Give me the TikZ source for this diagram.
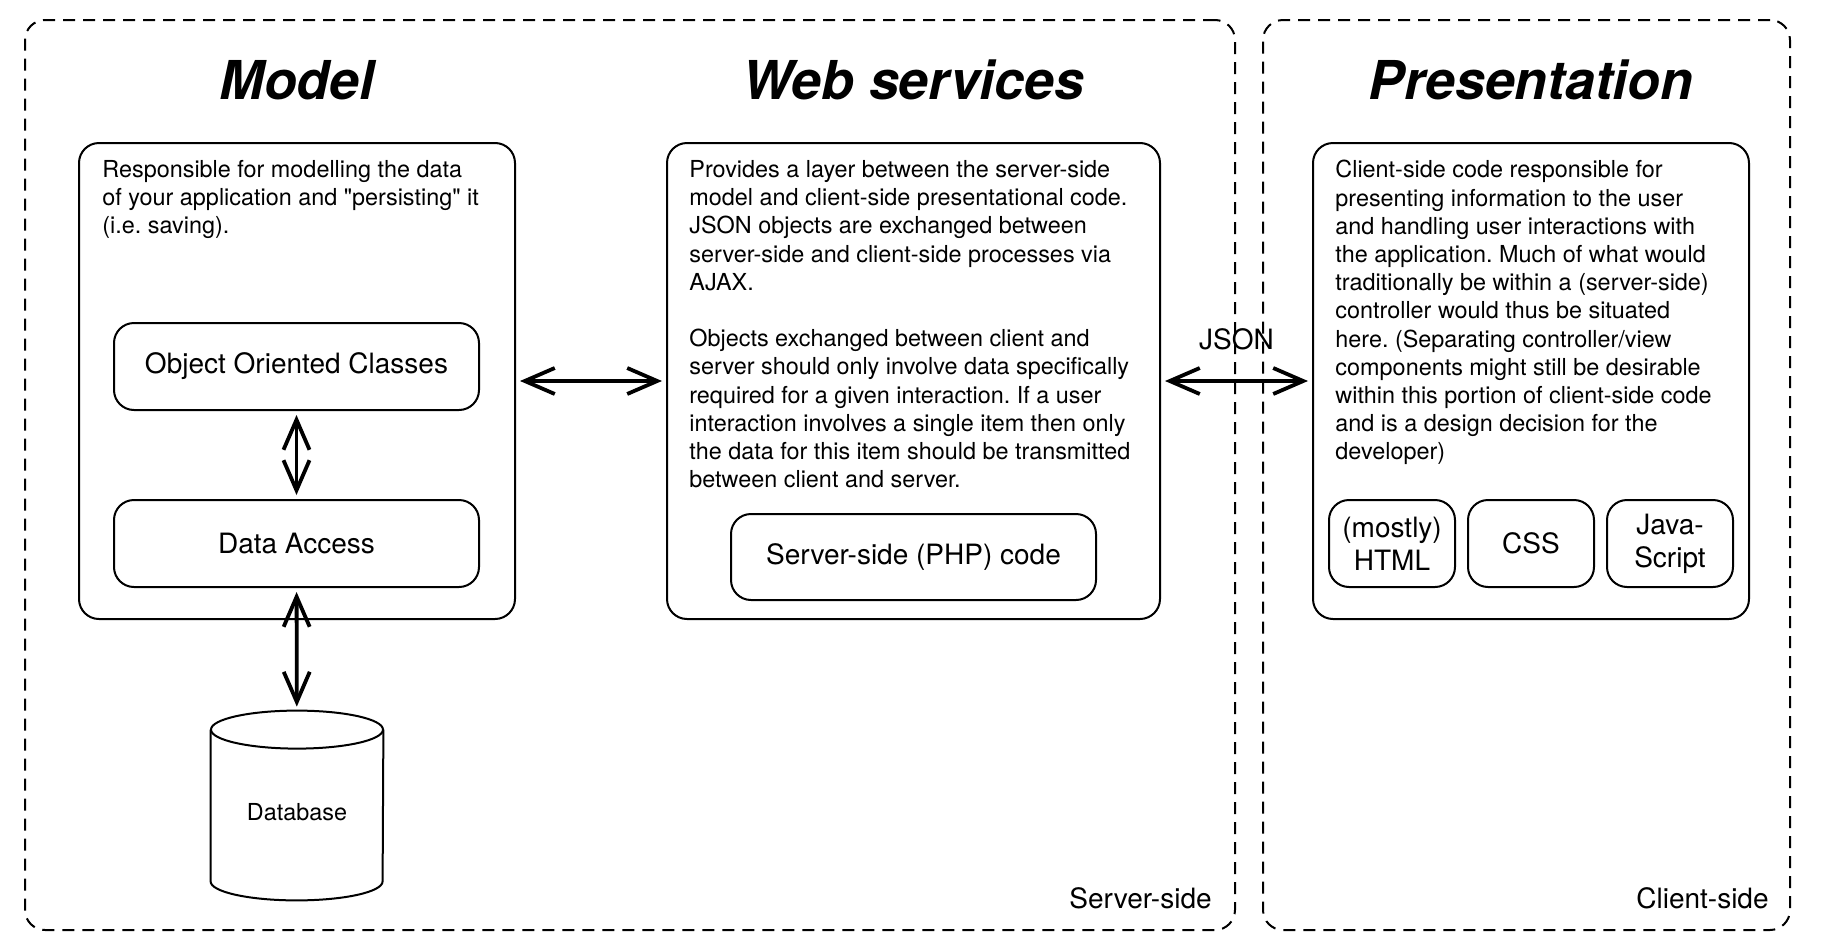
\documentclass[tikz,border=0pt]{standalone}
\usepackage{fontspec}
\setmainfont{TeX Gyre Heros}
\usetikzlibrary{arrows.meta, positioning, calc}
\frenchspacing

\begin{document}
\begin{tikzpicture}[x=0.5pt, y=-0.5pt,
  sidebox/.style={draw, line width=1pt, dash pattern=on 6pt off 4pt, rounded corners=10pt},
  layerbox/.style={draw, line width=1pt, rounded corners=10pt, minimum height=238pt},
  partbox/.style={draw, line width=1pt, rounded corners=10pt, align=center,
                  font=\fontsize{14}{16.5}\selectfont, minimum height=43.5pt},
  headline/.style={font=\fontsize{26.8}{30}\selectfont\bfseries\itshape},
  bodytext/.style={font=\fontsize{11.7}{14.1}\selectfont, align=left, inner sep=0pt, anchor=north west},
  sidelbl/.style={font=\fontsize{14}{16.5}\selectfont, inner sep=0pt, anchor=east},
  twoway/.style={{Straight Barb[length=15pt,width=13pt]}-{Straight Barb[length=15pt,width=13pt]},
                 line width=1.9pt, shorten >=2pt, shorten <=2pt}]
  \useasboundingbox (0,0) rectangle (1822,948);

  % Server-side and client-side areas
  \node[sidebox, minimum width=605pt, minimum height=455pt] (server) at (630,475) {};
  \node[sidebox, minimum width=263.5pt, minimum height=455pt] (client) at (1526.5,475) {};
  \node[sidelbl] (serverlbl) at ([xshift=-12pt, yshift=16.5pt]server.south east) {Server-side};
  \node[sidelbl] (clientlbl) at ([xshift=-11pt, yshift=16.5pt]client.south east) {Client-side};

  % The three layers
  \node[layerbox, minimum width=218pt] (modelbox) at (297,381) {};
  \node[layerbox, minimum width=246.5pt] (webbox) at (913.5,381) {};
  \node[layerbox, minimum width=218pt] (presbox) at (1531,381) {};

  \foreach \lay/\name in {modelbox/Model, webbox/Web services, presbox/Presentation} {
    \node[headline] (\lay-title) at ([yshift=31pt]\lay.north) {\name};
  }

  % Descriptions
  \node[bodytext] (modeltxt) at ([shift={(12pt,-9pt)}]modelbox.north west)
    {Responsible for modelling the data\\
     of your application and \textquotedbl persisting\textquotedbl{} it\\
     (i.e. saving).};
  \node[bodytext] (webtxt) at ([shift={(11.5pt,-9pt)}]webbox.north west)
    {Provides a layer between the server-side\\
     model and client-side presentational code.\\
     JSON objects are exchanged between\\
     server-side and client-side processes via\\
     AJAX.\\[14.1pt]
     Objects exchanged between client and\\
     server should only involve data specifically\\
     required for a given interaction. If a user\\
     interaction involves a single item then only\\
     the data for this item should be transmitted\\
     between client and server.};
  \node[bodytext] (prestxt) at ([shift={(11.5pt,-9pt)}]presbox.north west)
    {Client-side code responsible for\\
     presenting information to the user\\
     and handling user interactions with\\
     the application. Much of what would\\
     traditionally be within a (server-side)\\
     controller would thus be situated\\
     here. (Separating controller/view\\
     components might still be desirable\\
     within this portion of client-side code\\
     and is a design decision for the\\
     developer)};

  % Model parts
  \node[partbox, minimum width=182.5pt] (ooc) at (296.5,366.5) {Object Oriented Classes};
  \node[partbox, minimum width=182.5pt] (dacc) at (296.5,543.5) {Data Access};
  \node[minimum width=86pt, minimum height=101pt, inner sep=0pt,
        font=\fontsize{11.7}{14.1}\selectfont] (db) at (297,812) {Database};
  \draw[line width=1pt] ([yshift=-9.5pt]db.north west) -- ([yshift=16pt]db.south west)
    arc[start angle=180, end angle=360, x radius=43pt, y radius=9.5pt]
    -- ([yshift=-9.5pt]db.north east);
  \draw[line width=1pt] ([yshift=-9.5pt]db.north) ellipse[x radius=43pt, y radius=9.5pt];

  % Web services part
  \node[partbox, minimum width=182.5pt, minimum height=43pt] (php) at (913.5,557) {Server-side (PHP) code};

  % Presentation parts
  \node[partbox, minimum width=63pt] (html) at (1392,543.5) {(mostly)\\HTML};
  \node[partbox, minimum width=63pt, right=5.5pt of html] (css) {CSS};
  \node[partbox, minimum width=63pt, right=5.5pt of css] (js) {Java-\\Script};

  % Connectors
  \draw[twoway] (ooc) -- (dacc);
  \draw[twoway] (dacc) -- (db);
  \draw[twoway] (modelbox.east) -- (webbox.west);
  \draw[twoway] (webbox.east) -- (presbox.west)
    node[midway, yshift=21pt, font=\fontsize{14}{16.5}\selectfont] (jsonlbl) {JSON};
\end{tikzpicture}
\end{document}
